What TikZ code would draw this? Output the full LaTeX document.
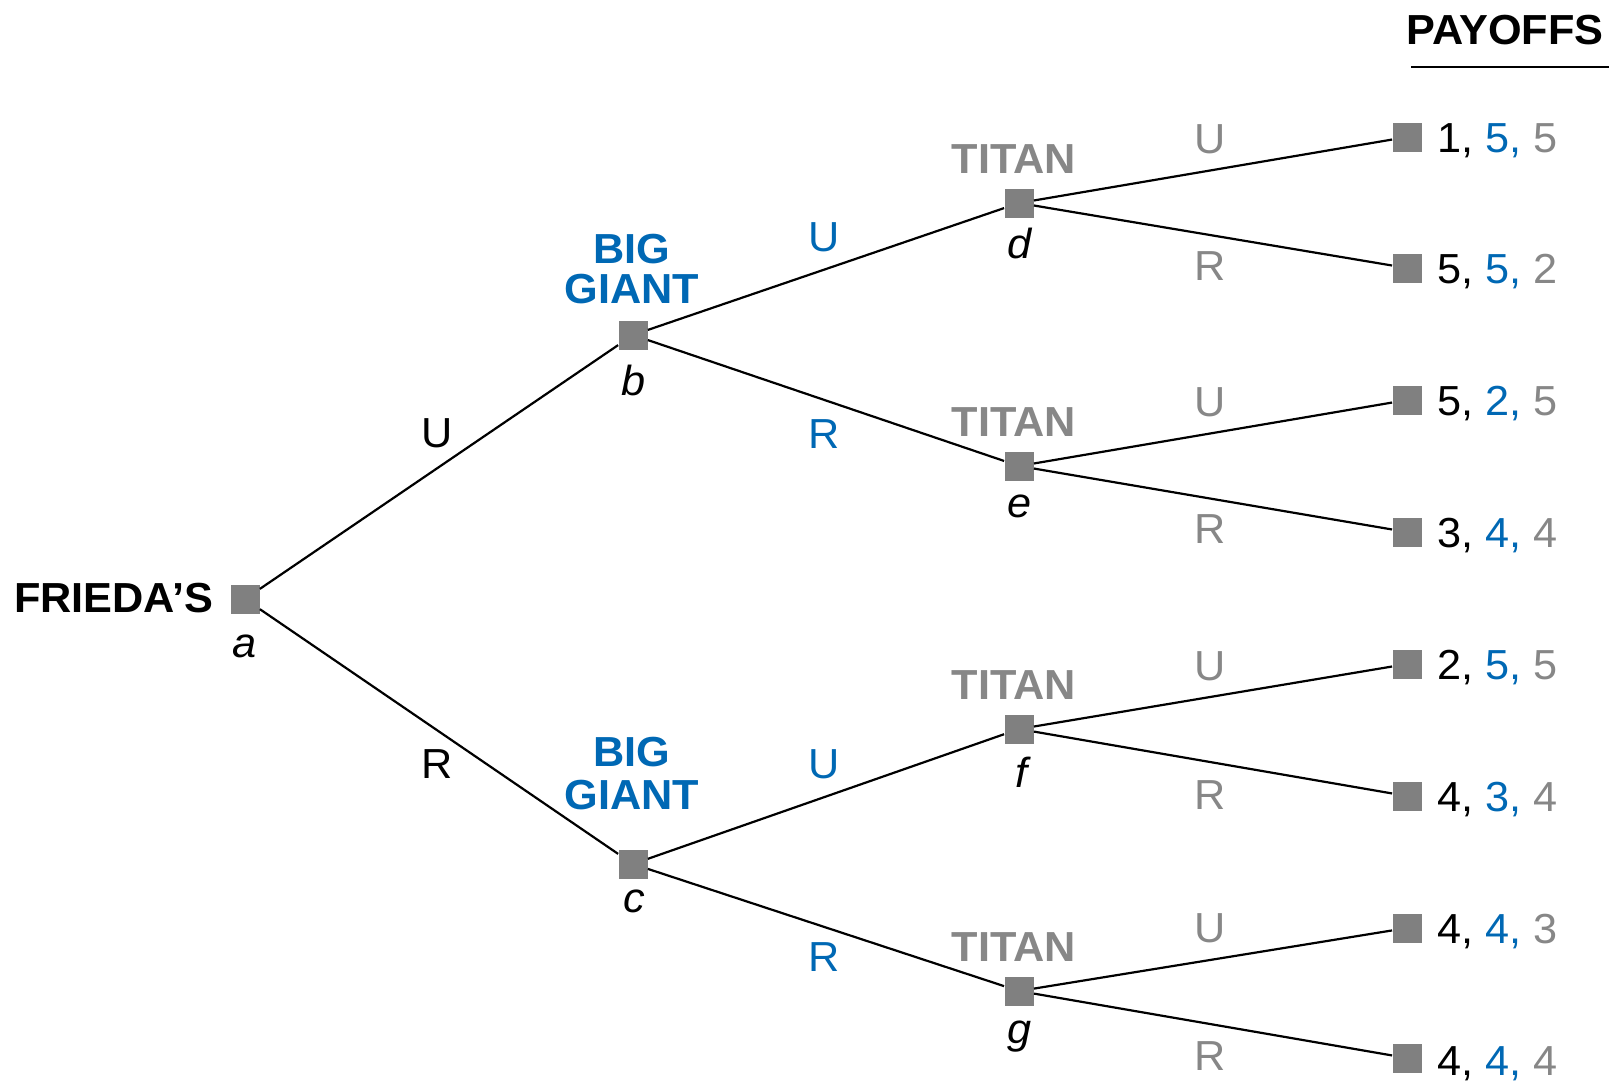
\documentclass[tikz,border=0pt]{standalone}
\usepackage{fontspec}
\setmainfont{Liberation Sans}[FakeStretch=1.03]
\definecolor{bgblue}{RGB}{0,104,180}
\definecolor{sqgray}{RGB}{128,128,128}
\definecolor{tgray}{RGB}{135,135,135}
\begin{document}
\begin{tikzpicture}[x=0.5pt,y=-0.5pt,
  sq/.style={fill=sqgray,draw=none,minimum size=14.5pt,inner sep=0pt},
  txt/.style={inner sep=0pt,anchor=base,font=\fontsize{21}{25}\selectfont},
  bold/.style={txt,font=\fontsize{21}{25}\selectfont\bfseries},
  ital/.style={txt,font=\fontsize{21}{25}\selectfont\itshape},
  pay/.style={txt,anchor=base west},
  edge/.style={line width=1.1pt,black}]
\useasboundingbox (0,0) rectangle (1612,1084);
% decision nodes
\node[sq] (a) at (245,599) {};
\node[sq] (b) at (633,335) {};
\node[sq] (c) at (633,864) {};
\node[sq] (d) at (1019,203) {};
\node[sq] (e) at (1019,466) {};
\node[sq] (f) at (1019,729) {};
\node[sq] (g) at (1019,991) {};
% terminals
\node[sq] (t1) at (1407,137) {};
\node[sq] (t2) at (1407,268) {};
\node[sq] (t3) at (1407,400) {};
\node[sq] (t4) at (1407,532) {};
\node[sq] (t5) at (1407,664) {};
\node[sq] (t6) at (1407,796) {};
\node[sq] (t7) at (1407,928) {};
\node[sq] (t8) at (1407,1058) {};
% edges
\draw[edge] (a) -- (b);
\draw[edge] (a) -- (c);
\draw[edge] (b) -- (d);
\draw[edge] (b) -- (e);
\draw[edge] (c) -- (f);
\draw[edge] (c) -- (g);
\draw[edge] (d) -- (t1);
\draw[edge] (d) -- (t2);
\draw[edge] (e) -- (t3);
\draw[edge] (e) -- (t4);
\draw[edge] (f) -- (t5);
\draw[edge] (f) -- (t6);
\draw[edge] (g) -- (t7);
\draw[edge] (g) -- (t8);
% player labels
\node[bold,anchor=base east] (lfr) at (214,612) {FRIEDA’S};
\node[bold,text=bgblue] (lbig1) at (632,263) {BIG};
\node[bold,text=bgblue] (lgia1) at (632,303) {GIANT};
\node[bold,text=bgblue] (lbig2) at (632,766) {BIG};
\node[bold,text=bgblue] (lgia2) at (632,809) {GIANT};
\node[bold,text=tgray] (lt1) at (1014,173) {TITAN};
\node[bold,text=tgray] (lt2) at (1014,436) {TITAN};
\node[bold,text=tgray] (lt3) at (1014,699) {TITAN};
\node[bold,text=tgray] (lt4) at (1014,961) {TITAN};
% node letters
\node[ital] (la) at (245,657) {a};
\node[ital] (lb) at (634,395) {b};
\node[ital] (lc) at (634,912) {c};
\node[ital] (ld) at (1020,258) {d};
\node[ital] (le) at (1020,517) {e};
\node[ital] (lf) at (1021,787) {f};
\node[ital] (lg) at (1020,1043) {g};
% action labels
\node[txt] (u1) at (437,447) {U};
\node[txt] (r1) at (437,778) {R};
\node[txt,text=bgblue] (u2) at (824,251) {U};
\node[txt,text=bgblue] (r2) at (824,448) {R};
\node[txt,text=bgblue] (u3) at (824,778) {U};
\node[txt,text=bgblue] (r3) at (824,971) {R};
\node[txt,text=tgray] (u4) at (1210,153) {U};
\node[txt,text=tgray] (r4) at (1210,280) {R};
\node[txt,text=tgray] (u5) at (1210,416) {U};
\node[txt,text=tgray] (r5) at (1210,543) {R};
\node[txt,text=tgray] (u6) at (1210,680) {U};
\node[txt,text=tgray] (r6) at (1210,809) {R};
\node[txt,text=tgray] (u7) at (1210,942) {U};
\node[txt,text=tgray] (r7) at (1210,1070) {R};
% payoffs
\node[bold] (ph) at (1505,44) {PAYOFFS};
\coordinate (ul1) at (1411,67);
\coordinate (ul2) at (1609,67);
\draw[line width=1pt] (ul1) -- (ul2);
\node[pay] (p1) at (1437,152) {1, \textcolor{bgblue}{5,} \textcolor{tgray}{5}};
\node[pay] (p2) at (1437,283) {5, \textcolor{bgblue}{5,} \textcolor{tgray}{2}};
\node[pay] (p3) at (1437,415) {5, \textcolor{bgblue}{2,} \textcolor{tgray}{5}};
\node[pay] (p4) at (1437,547) {3, \textcolor{bgblue}{4,} \textcolor{tgray}{4}};
\node[pay] (p5) at (1437,679) {2, \textcolor{bgblue}{5,} \textcolor{tgray}{5}};
\node[pay] (p6) at (1437,811) {4, \textcolor{bgblue}{3,} \textcolor{tgray}{4}};
\node[pay] (p7) at (1437,943) {4, \textcolor{bgblue}{4,} \textcolor{tgray}{3}};
\node[pay] (p8) at (1437,1075) {4, \textcolor{bgblue}{4,} \textcolor{tgray}{4}};
\end{tikzpicture}
\end{document}
